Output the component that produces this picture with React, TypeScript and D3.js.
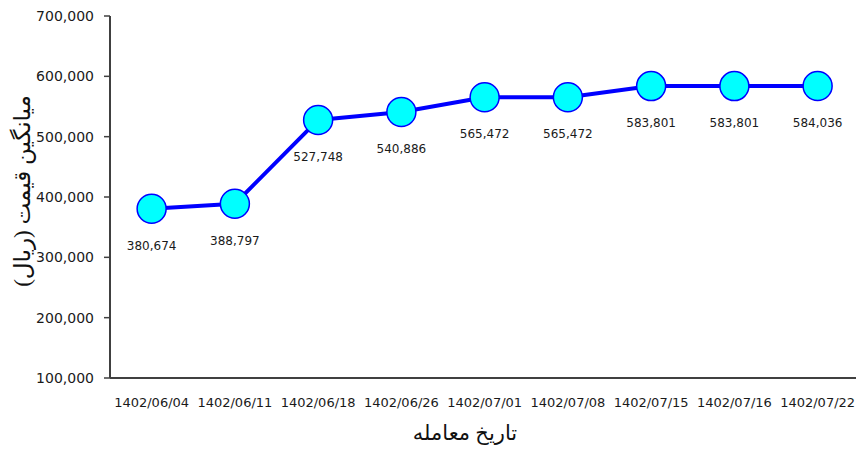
import React, { useEffect } from "react";
import * as d3 from "d3";

const categories = [
  "1402/06/04", "1402/06/11", "1402/06/18", "1402/06/26", "1402/07/01",
  "1402/07/08", "1402/07/15", "1402/07/16", "1402/07/22",
];
const values = [380674, 388797, 527748, 540886, 565472, 565472, 583801, 583801, 584036];
const yTicks = [100000, 200000, 300000, 400000, 500000, 600000, 700000];
const yTitle = "میانگین قیمت (ریال)";
const xTitle = "تاریخ معامله";

export default function App() {
  useEffect(() => {
    document.body.style.margin = "0";
  }, []);
  const W = 856, H = 452;
  const x0 = 110, step = 83.25;
  const x = d3.scaleBand().domain(categories).range([x0, x0 + step * categories.length]);
  const y = d3.scaleLinear().domain([100000, 700000]).range([378, 16]);
  const cx = (c: string) => (x(c) as number) + x.bandwidth() / 2;
  const fmt = d3.format(",");
  const line = d3.line<number>().x((_, i) => cx(categories[i])).y((d) => y(d));
  const tickFont = "'DejaVu Sans', Tahoma, sans-serif";
  const arFont = "'Liberation Serif', 'DejaVu Sans', serif";
  return (
    <svg width={W} height={H} style={{ display: "block", background: "#fff" }}>
      {/* y ticks */}
      {yTicks.map((t) => (
        <g key={t}>
          <line x1={x0 - 6} x2={x0} y1={y(t)} y2={y(t)} stroke="#404040" strokeWidth={1.5} />
          <text x={x0 - 16} y={y(t)} dy="0.35em" textAnchor="end" fontSize={14} fontFamily={tickFont} fill="#1a1a1a">
            {fmt(t)}
          </text>
        </g>
      ))}
      {/* axes */}
      <line x1={x0} x2={x0} y1={y(700000)} y2={y(100000)} stroke="#404040" strokeWidth={2} />
      <line x1={x0} x2={W} y1={y(100000)} y2={y(100000)} stroke="#404040" strokeWidth={2} />
      {/* x tick labels */}
      {categories.map((c) => (
        <text key={c} x={cx(c)} y={407} textAnchor="middle" fontSize={13} fontFamily={tickFont} fill="#1a1a1a">
          {c}
        </text>
      ))}
      {/* line */}
      <path d={line(values) || ""} fill="none" stroke="#0000FF" strokeWidth={4} strokeLinejoin="round" />
      {values.map((v, i) => (
        <g key={i}>
          <circle cx={cx(categories[i])} cy={y(v)} r={14.5} fill="#00FFFF" stroke="#0000FF" strokeWidth={1.5} />
          <text x={cx(categories[i])} y={y(v) + 41} textAnchor="middle" fontSize={12} fontFamily={tickFont} fill="#1a1a1a">
            {fmt(v)}
          </text>
        </g>
      ))}
      {/* titles */}
      <text
        transform={`translate(30, 191) rotate(-90)`}
        textAnchor="middle"
        fontSize={23}
        fontFamily={arFont}
        fill="#111"
        direction="rtl"
      >
        {yTitle}
      </text>
      <text x={465} y={440} textAnchor="middle" fontSize={21} fontFamily={arFont} fill="#111" direction="rtl">
        {xTitle}
      </text>
    </svg>
  );
}
